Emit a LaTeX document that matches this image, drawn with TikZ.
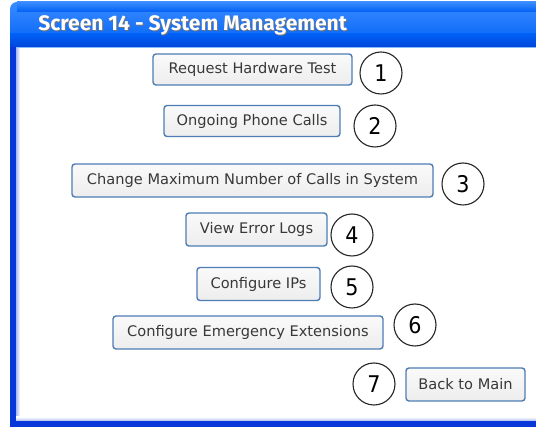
\documentclass[tikz,border=0pt]{standalone}
\usepackage{fontspec}
\setmainfont{DejaVu Sans}
\newfontfamily\titlefont{Fira Sans}
\newfontfamily\btnfont{DejaVu Sans}
\newfontfamily\numfont{DejaVu Sans Condensed}
\usetikzlibrary{shadings}
\definecolor{xpblue}{HTML}{0060F6}
\definecolor{xpblueTop}{HTML}{3A8CFF}
\definecolor{xpblueBot}{HTML}{0046DA}
\definecolor{xpedge}{HTML}{0838D8}
\definecolor{btnedge}{HTML}{4F7DB3}
\definecolor{btntext}{HTML}{383838}
\tikzset{
  btn/.style={draw=btnedge, line width=1.4pt, rounded corners=3pt,
    top color=white!96!gray, bottom color=white!86!gray,
    text=btntext, font=\btnfont\fontsize{14.6}{16}\selectfont,
    inner sep=0pt, anchor=center},
  num/.style={circle, draw=black!85, line width=1.1pt, minimum size=42pt,
    inner sep=0pt, fill=white, font=\numfont\fontsize{23}{26}\selectfont}
}
\begin{document}
\begin{tikzpicture}[x=1pt,y=-1pt]
\useasboundingbox (0,0) rectangle (536,427);
\fill[white] (0,0) rectangle (536,427);
% window frame: left and bottom borders
\fill[xpedge] (10,40) rectangle (16,427);
\fill[xpedge] (10,421) rectangle (536,427);
\shade[left color=xpedge!35, right color=white] (16,48) rectangle (20,421);
\shade[top color=white, bottom color=xpedge!35] (16,417) rectangle (536,421);
% title bar
\shade[top color=xpblueTop, bottom color=xpblue]
  (10,47) -- (10,9) arc[start angle=180, end angle=270, radius=7] -- (536,2) -- (536,47) -- cycle;
\shade[top color=xpblueTop, bottom color=xpblue] (17,2) rectangle (536,12);
\shade[top color=xpblue, bottom color=xpblueBot] (10,34) rectangle (536,47);
\fill[xpblueTop!60!white] (16,47) rectangle (536,48.5);
\node[text=black!55, anchor=west, font=\titlefont\bfseries\fontsize{21}{24}\selectfont]
  (titleshadow) at (35.8,26.3) {Screen 14 - System Management};
\node[text=white, anchor=west, font=\titlefont\bfseries\fontsize{21}{24}\selectfont]
  (title) at (34.8,25.3) {Screen 14 - System Management};
% buttons
\node[btn, minimum width=199pt, minimum height=31pt] (b1) at (252.5,69.5) {Request Hardware Test};
\node[btn, minimum width=176pt, minimum height=31pt] (b2) at (252,121) {Ongoing Phone Calls};
\node[btn, minimum width=361pt, minimum height=33pt] (b3) at (252.5,180.5) {Change Maximum Number of Calls in System};
\node[btn, minimum width=141pt, minimum height=33pt] (b4) at (256.5,229.5) {View Error Logs};
\node[btn, minimum width=123pt, minimum height=33pt] (b5) at (258.5,284) {Configure IPs};
\node[btn, minimum width=270pt, minimum height=33pt] (b6) at (248,332.5) {Configure Emergency Extensions};
\node[btn, minimum width=119pt, minimum height=33pt] (b7) at (465.5,384.5) {Back to Main};
% numbered markers
\node[num] (n1) at (381,73) {1};
\node[num] (n2) at (375,126) {2};
\node[num] (n3) at (463,184) {3};
\node[num] (n4) at (352,235) {4};
\node[num] (n5) at (352,287) {5};
\node[num] (n6) at (415,325) {6};
\node[num] (n7) at (374,384) {7};
\end{tikzpicture}
\end{document}
